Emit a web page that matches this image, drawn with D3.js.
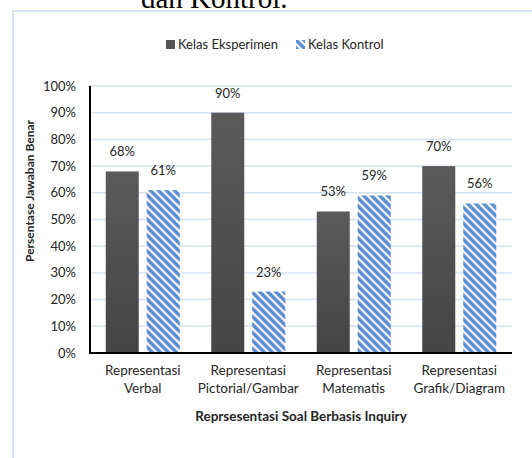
<!DOCTYPE html>
<html>
<head>
<meta charset="utf-8">
<script src="https://cdn.jsdelivr.net/npm/d3@7"></script>
<style>
	body { margin: 0; background: #fff; }
	svg { display: block; }
	text { font-family: Lato, "Open Sans", sans-serif; fill: #262626; }
</style>
</head>
<body>
<svg id="chart" width="532" height="458"></svg>
<script>
var categories = [["Representasi", "Verbal"], ["Representasi", "Pictorial/Gambar"], ["Representasi", "Matematis"], ["Representasi", "Grafik/Diagram"]];
var seriesNames = ["Kelas Eksperimen", "Kelas Kontrol"];
var eksperimen = [68, 90, 53, 70];
var kontrol = [61, 23, 59, 56];
var yTicks = [0, 10, 20, 30, 40, 50, 60, 70, 80, 90, 100];

var svg = d3.select("#chart");

var plot = { left: 90, right: 512, top: 86, bottom: 353 };

// page title cut off by the crop
svg.append("text")
	.attr("x", 141)
	.attr("y", 8)
	.style("font-family", "'Liberation Serif', serif")
	.style("font-size", "29px")
	.style("fill", "#000")
	.text("dan Kontrol.");

// chart frame
svg.append("rect")
	.attr("x", 13)
	.attr("y", 11)
	.attr("width", 540)
	.attr("height", 470)
	.style("fill", "#fff")
	.style("stroke", "#d6e2f2")
	.style("stroke-width", 2);

var defs = svg.append("defs");

var grad = defs.append("linearGradient")
	.attr("id", "darkGrad")
	.attr("x1", 0).attr("y1", 0).attr("x2", 0).attr("y2", 1);
grad.append("stop").attr("offset", "0%").attr("stop-color", "#5b5b5b");
grad.append("stop").attr("offset", "100%").attr("stop-color", "#444444");

// wide downward diagonal
var hatch = defs.append("pattern")
	.attr("id", "hatch")
	.attr("patternUnits", "userSpaceOnUse")
	.attr("width", 8)
	.attr("height", 8);
hatch.append("rect").attr("width", 8).attr("height", 8).style("fill", "#fff");
hatch.append("path")
	.attr("d", "M-2,6 L2,10 M-4,-4 L12,12 M6,-2 L10,2")
	.style("stroke", "#5b8ed0")
	.style("stroke-width", 3.4);

var x0 = d3.scaleBand()
	.domain(d3.range(categories.length))
	.range([plot.left, plot.right]);

var x1 = d3.scaleBand()
	.domain([0, 1])
	.range([0, x0.bandwidth()])
	.paddingInner(0.195)
	.paddingOuter(0.384);

var y = d3.scaleLinear()
	.domain([0, 100])
	.range([plot.bottom, plot.top]);

// gridlines
svg.append("g")
	.selectAll("line")
	.data(yTicks.slice(1))
	.enter().append("line")
	.attr("x1", plot.left)
	.attr("x2", plot.right)
	.attr("y1", (d) => y(d))
	.attr("y2", (d) => y(d))
	.style("stroke", "#d6e2f2")
	.style("stroke-width", 1.5);

// y tick labels
svg.append("g")
	.selectAll("text")
	.data(yTicks)
	.enter().append("text")
	.attr("x", 76)
	.attr("y", (d) => y(d) + 4.5)
	.attr("text-anchor", "end")
	.style("font-size", "13px")
	.text((d) => d + "%");

var series = [eksperimen, kontrol];

series.forEach((vals, s) => {
	svg.append("g")
		.selectAll("rect")
		.data(vals)
		.enter().append("rect")
		.attr("x", (d, i) => x0(i) + x1(s))
		.attr("y", (d) => y(d))
		.attr("width", x1.bandwidth())
		.attr("height", (d) => plot.bottom - y(d))
		.style("fill", s == 0 ? "url(#darkGrad)" : "url(#hatch)");

	svg.append("g")
		.selectAll("text")
		.data(vals)
		.enter().append("text")
		.attr("x", (d, i) => x0(i) + x1(s) + x1.bandwidth() / 2)
		.attr("y", (d) => y(d) - 15)
		.attr("text-anchor", "middle")
		.style("font-size", "13px")
		.text((d) => d + "%");
});

// axes lines
svg.append("line")
	.attr("x1", plot.left).attr("x2", plot.left)
	.attr("y1", plot.top).attr("y2", plot.bottom)
	.style("stroke", "#000").style("stroke-width", 2);
svg.append("line")
	.attr("x1", plot.left - 1).attr("x2", plot.right)
	.attr("y1", plot.bottom).attr("y2", plot.bottom)
	.style("stroke", "#000").style("stroke-width", 2);

// category labels
var catG = svg.append("g")
	.selectAll("text")
	.data(categories)
	.enter().append("text")
	.attr("x", (d, i) => x0(i) + x0.bandwidth() / 2)
	.attr("y", 375)
	.attr("text-anchor", "middle")
	.style("font-size", "13.5px");
catG.each(function(d) {
	var t = d3.select(this);
	var cx = t.attr("x");
	t.append("tspan").attr("x", cx).attr("dy", 0).text(d[0]);
	t.append("tspan").attr("x", cx).attr("dy", 18).text(d[1]);
});

// axis titles
svg.append("text")
	.attr("x", (plot.left + plot.right) / 2)
	.attr("y", 421)
	.attr("text-anchor", "middle")
	.style("font-size", "13.5px")
	.style("font-weight", "bold")
	.text("Reprsesentasi Soal Berbasis Inquiry");

svg.append("text")
	.attr("transform", "translate(34,191) rotate(-90)")
	.attr("text-anchor", "middle")
	.style("font-size", "12px")
	.style("font-weight", "bold")
	.text("Persentase Jawaban Benar");

// legend
var legend = svg.append("g");
var legendX = [166, 296];
seriesNames.forEach((name, i) => {
	legend.append("rect")
		.attr("x", legendX[i])
		.attr("y", 40)
		.attr("width", 9)
		.attr("height", 9)
		.style("fill", i == 0 ? "#555" : "url(#hatch)");
	legend.append("text")
		.attr("x", legendX[i] + 12)
		.attr("y", 49)
		.style("font-size", "13px")
		.text(name);
});
</script>
</body>
</html>
